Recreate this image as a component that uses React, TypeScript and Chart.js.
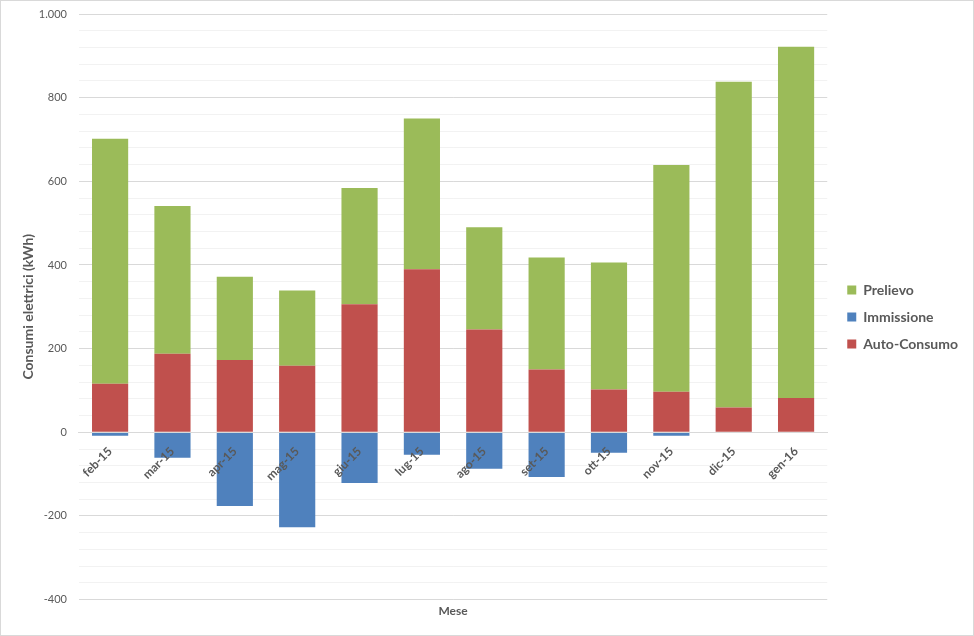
import React, { useEffect, useRef } from 'react';
import { Chart, registerables } from 'chart.js';

Chart.register(...registerables);

const months = ['feb-15', 'mar-15', 'apr-15', 'mag-15', 'giu-15', 'lug-15', 'ago-15', 'set-15', 'ott-15', 'nov-15', 'dic-15', 'gen-16'];
const autoConsumo = [116, 188, 173, 159, 306, 390, 246, 150, 102, 97, 59, 82];
const prelievo = [586, 353, 199, 180, 278, 360, 244, 268, 304, 542, 779, 840];
const immissione = [-8, -61, -176, -227, -121, -54, -87, -107, -49, -8, 0, 0];

const yMin = -400;
const yMax = 1000;
const minorStep = 40;
const majorStep = 200;

const fmt = (v: number) => {
  const s = Math.abs(v).toString().replace(/\B(?=(\d{3})+(?!\d))/g, '.');
  return (v < 0 ? '-' : '') + s;
};

const FONT = 'Lato, "Open Sans", sans-serif';

const borderPlugin = {
  id: 'outerBorder',
  beforeDraw(chart: any) {
    const { ctx, width, height } = chart;
    ctx.save();
    ctx.fillStyle = '#ffffff';
    ctx.fillRect(0, 0, width, height);
    ctx.strokeStyle = '#d9d9d9';
    ctx.lineWidth = 1;
    ctx.strokeRect(0.5, 0.5, width - 1, height - 1);
    ctx.restore();
  },
};

export default function App() {
  const ref = useRef<HTMLCanvasElement | null>(null);

  useEffect(() => {
    if (!ref.current) return;
    const chart = new Chart(ref.current, {
      type: 'bar',
      data: {
        labels: months,
        datasets: [
          { label: 'Auto-Consumo', data: autoConsumo, backgroundColor: '#C0504D', borderWidth: 0 },
          { label: 'Immissione', data: immissione, backgroundColor: '#4F81BD', borderWidth: 0 },
          { label: 'Prelievo', data: prelievo, backgroundColor: '#9BBB59', borderWidth: 0 },
        ],
      },
      options: {
        responsive: false,
        animation: false,
        layout: { padding: { left: 18, right: 6, top: 14, bottom: 16 } },
        datasets: { bar: { categoryPercentage: 1, barPercentage: 0.58 } },
        scales: {
          x: {
            stacked: true,
            position: { y: 0 } as any,
            grid: { display: false, drawTicks: false },
            border: { display: true, color: '#d9d9d9', width: 1, z: 1 },
            ticks: {
              z: 1,
              autoSkip: false,
              minRotation: 45,
              maxRotation: 45,
              padding: 12,
              color: '#595959',
              font: { family: FONT, size: 12, weight: 'bold' },
            },
          },
          y: {
            stacked: true,
            min: yMin,
            max: yMax,
            border: { display: false },
            grid: {
              drawTicks: true,
              tickLength: 12,
              tickColor: 'rgba(0,0,0,0)',
              lineWidth: 1,
              color: (ctx: any) =>
                ctx.tick && ctx.tick.value % majorStep === 0 ? '#d9d9d9' : '#f2f2f2',
            },
            ticks: {
              stepSize: minorStep,
              autoSkip: false,
              padding: 0,
              color: '#595959',
              font: { family: FONT, size: 11 },
              callback: (v: any) => (Number(v) % majorStep === 0 ? fmt(Number(v)) : ''),
            },
            title: {
              display: true,
              text: 'Consumi elettrici (kWh)',
              color: '#595959',
              padding: { top: 2, bottom: 2 },
              font: { family: FONT, size: 14, weight: 'bold' },
            },
          },
          yRightSpace: {
            position: 'right',
            display: true,
            grid: { display: false, drawTicks: false },
            border: { display: false },
            ticks: { display: false },
            afterFit: (s: any) => {
              s.width = 7;
            },
          },
        },
        plugins: {
          legend: {
            position: 'right',
            reverse: true,
            labels: {
              boxWidth: 9,
              boxHeight: 9,
              padding: 13,
              color: '#595959',
              font: { family: FONT, size: 14, weight: 'bold' },
            },
          },
          title: {
            display: true,
            text: 'Mese',
            position: 'bottom',
            fullSize: false,
            color: '#595959',
            font: { family: FONT, size: 12, weight: 'bold' },
            padding: { top: 4, bottom: 2 },
          },
          tooltip: { enabled: false },
        },
      },
      plugins: [borderPlugin],
    });
    return () => chart.destroy();
  }, []);

  return (
    <div style={{ position: 'fixed', left: 0, top: 0, width: 974, height: 636 }}>
      <canvas ref={ref} width={974} height={636} style={{ display: 'block' }} />
    </div>
  );
}
